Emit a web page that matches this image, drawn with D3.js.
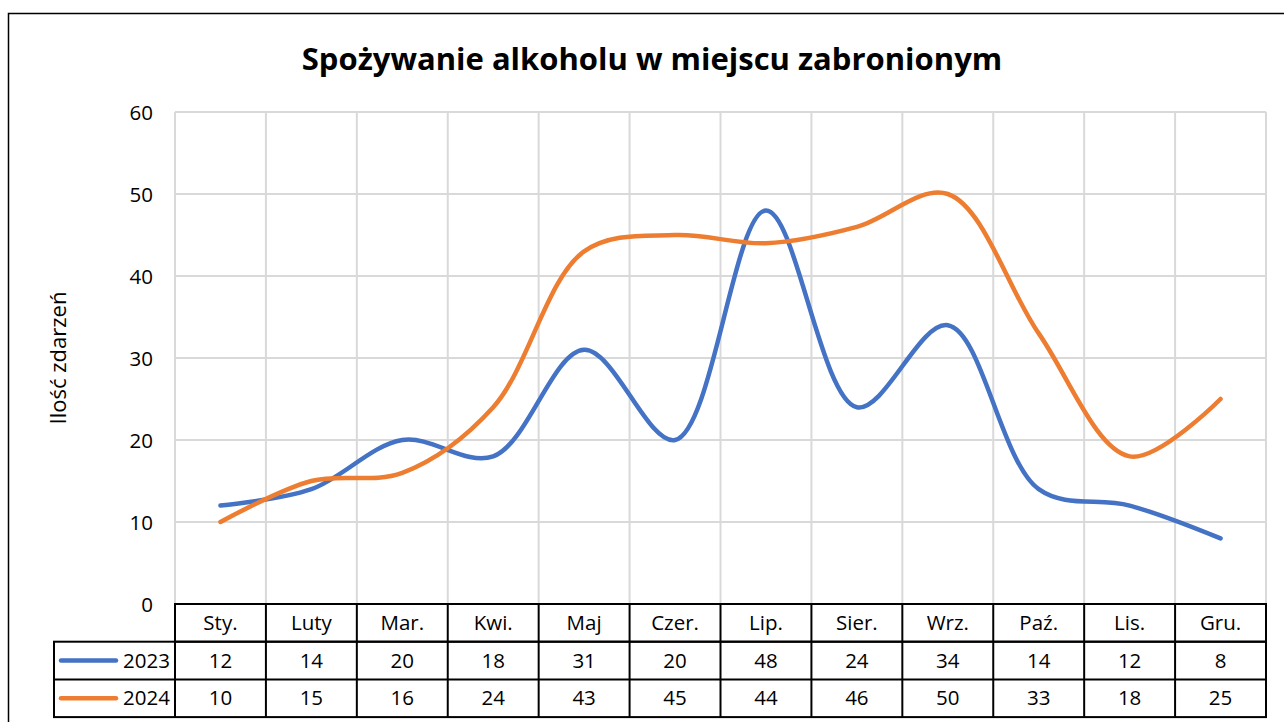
<!DOCTYPE html>
<html>
<head>
<meta charset="utf-8">
<script src="https://cdn.jsdelivr.net/npm/d3@7"></script>
<style>
  body { margin: 0; background: #fff; }
  svg text { font-family: "Open Sans", sans-serif; fill: #000; }
</style>
</head>
<body>
<div id="graph"></div>
<script>
var months = ["Sty.", "Luty", "Mar.", "Kwi.", "Maj", "Czer.", "Lip.", "Sier.", "Wrz.", "Paź.", "Lis.", "Gru."];
var values2023 = [12, 14, 20, 18, 31, 20, 48, 24, 34, 14, 12, 8];
var values2024 = [10, 15, 16, 24, 43, 45, 44, 46, 50, 33, 18, 25];
var seriesNames = ["2023", "2024"];
var seriesColors = ["#4472C4", "#ED7D31"];
var yTicks = [0, 10, 20, 30, 40, 50, 60];

var W = 1284, H = 722;
var margin = {top: 112, left: 175, right: 18, bottom: 118};
var width = W - margin.left - margin.right,
    height = H - margin.top - margin.bottom;
var rowH = 37.7;
var fs = 20.5;

var svg = d3.select("div#graph").append("svg")
  .attr("width", W).attr("height", H);

// outer chart border
svg.append("rect")
  .attr("x", 8.5).attr("y", 13.5)
  .attr("width", W).attr("height", H)
  .attr("fill", "none").attr("stroke", "#000").attr("stroke-width", 1.5);

svg.append("text")
  .attr("x", 652).attr("y", 70)
  .attr("text-anchor", "middle")
  .attr("font-size", 31).attr("font-weight", "bold")
  .text("Spożywanie alkoholu w miejscu zabronionym");

var g = svg.append("g")
  .attr("transform", "translate(" + margin.left + "," + margin.top + ")");

var xScale = d3.scaleBand().domain(months).range([0, width]);
var yScale = d3.scaleLinear().domain([0, 60]).range([height, 0]);

// gridlines
g.selectAll("line.hgrid").data(yTicks).enter().append("line")
  .attr("class", "hgrid")
  .attr("x1", 0).attr("x2", width)
  .attr("y1", function(d) { return yScale(d); })
  .attr("y2", function(d) { return yScale(d); })
  .attr("stroke", "#d9d9d9").attr("stroke-width", 2);

var vEdges = months.map(function(m) { return xScale(m); }).concat([width]);
g.selectAll("line.vgrid").data(vEdges).enter().append("line")
  .attr("class", "vgrid")
  .attr("x1", function(d) { return d; }).attr("x2", function(d) { return d; })
  .attr("y1", 0).attr("y2", height)
  .attr("stroke", "#d9d9d9").attr("stroke-width", 2);

// y axis
var yAxis = g.append("g").call(d3.axisLeft(yScale).tickValues(yTicks).tickSize(0).tickPadding(22));
yAxis.select(".domain").remove();
yAxis.attr("font-size", fs).attr("font-family", null);
yAxis.selectAll("text").attr("dy", "0.35em");

svg.append("text")
  .attr("transform", "translate(66," + (margin.top + height / 2) + ") rotate(-90)")
  .attr("text-anchor", "middle")
  .attr("font-size", 22)
  .text("Ilość zdarzeń");

// lines
var line = d3.line()
  .x(function(d, i) { return xScale(months[i]) + xScale.bandwidth() / 2; })
  .y(function(d) { return yScale(d); })
  .curve(d3.curveCatmullRom.alpha(0.5));

[values2023, values2024].forEach(function(vals, k) {
  g.append("path")
    .datum(vals)
    .attr("d", line)
    .attr("fill", "none")
    .attr("stroke", seriesColors[k])
    .attr("stroke-width", 4.5)
    .attr("stroke-linecap", "round");
});

// data table
var t = g.append("g").attr("transform", "translate(0," + height + ")");
var legendLeft = 54 - margin.left;
var black = "#000";

// header row
t.append("rect").attr("x", 0).attr("y", 0).attr("width", width).attr("height", rowH)
  .attr("fill", "none").attr("stroke", black).attr("stroke-width", 2);
// data rows
t.append("rect").attr("x", legendLeft).attr("y", rowH).attr("width", width - legendLeft).attr("height", rowH * 2)
  .attr("fill", "none").attr("stroke", black).attr("stroke-width", 2);
t.append("line").attr("x1", legendLeft).attr("x2", width)
  .attr("y1", rowH * 2).attr("y2", rowH * 2).attr("stroke", black).attr("stroke-width", 2);
t.selectAll("line.tv").data(vEdges.slice(0, 12)).enter().append("line")
  .attr("class", "tv")
  .attr("x1", function(d) { return d; }).attr("x2", function(d) { return d; })
  .attr("y1", 0).attr("y2", rowH * 3)
  .attr("stroke", black).attr("stroke-width", 2);

t.selectAll("text.month").data(months).enter().append("text")
  .attr("class", "month")
  .attr("x", function(d) { return xScale(d) + xScale.bandwidth() / 2; })
  .attr("y", rowH / 2 + 7)
  .attr("text-anchor", "middle").attr("font-size", fs)
  .text(function(d) { return d; });

[values2023, values2024].forEach(function(vals, k) {
  var yRow = rowH * (k + 1);
  t.selectAll("text.v" + k).data(vals).enter().append("text")
    .attr("class", "v" + k)
    .attr("x", function(d, i) { return xScale(months[i]) + xScale.bandwidth() / 2; })
    .attr("y", yRow + rowH / 2 + 7)
    .attr("text-anchor", "middle").attr("font-size", fs)
    .text(function(d) { return d; });
  t.append("line")
    .attr("x1", legendLeft + 7).attr("x2", legendLeft + 62)
    .attr("y1", yRow + rowH / 2).attr("y2", yRow + rowH / 2)
    .attr("stroke", seriesColors[k]).attr("stroke-width", 4.5).attr("stroke-linecap", "round");
  t.append("text")
    .attr("x", -5).attr("y", yRow + rowH / 2 + 7)
    .attr("text-anchor", "end").attr("font-size", fs)
    .text(seriesNames[k]);
});
</script>
</body>
</html>
